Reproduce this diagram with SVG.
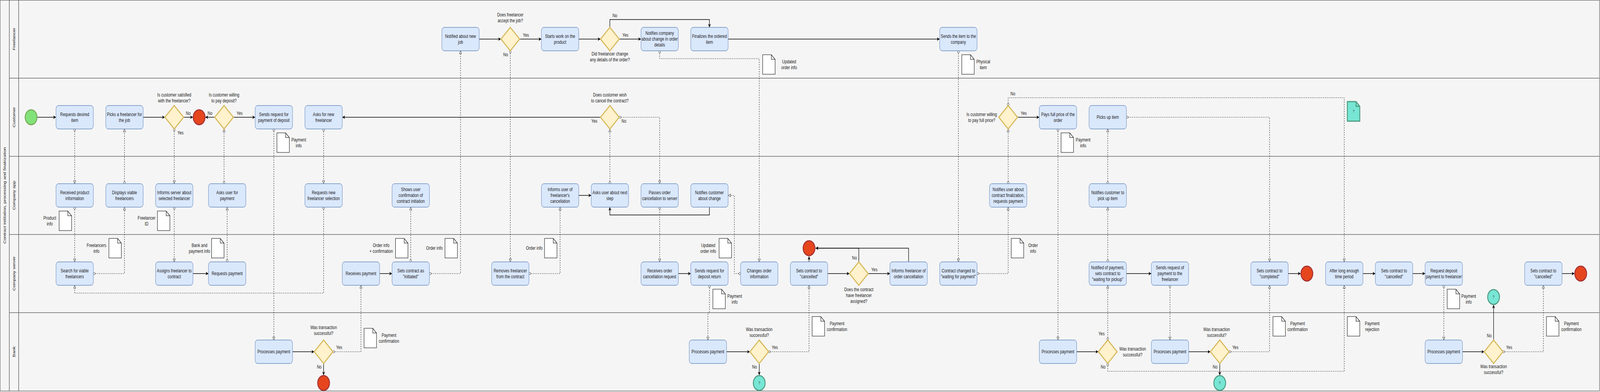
<svg xmlns="http://www.w3.org/2000/svg" width="5142" height="1003" viewBox="0 0 5142 1003" preserveAspectRatio="none">
<style>
svg:root{width:100vw;height:100vh}
text{font-family:"Liberation Sans",Arial,sans-serif;font-size:12px;fill:#1a1a1a;text-anchor:middle}
.task rect{fill:#dae8fc;stroke:#6c8ebf;stroke-width:1.3}
.gw polygon{fill:#fff2cc;stroke:#d6b656;stroke-width:3}
.start circle{fill:#82e27a;stroke:#78ad5c;stroke-width:3}
.end circle{fill:#e6461e;stroke:#a83232;stroke-width:3}
.teal circle,.teal path.b{fill:#78e6d5;stroke:#4f9e82;stroke-width:3}
.teal text{font-size:10px;fill:#444}
.doc path{fill:#fff;stroke:#000;stroke-width:1.2}
.seq{fill:none;stroke:#000;stroke-width:1.5;marker-end:url(#arr)}
.msg{fill:none;stroke:#000;stroke-width:1;stroke-dasharray:3 3;marker-start:url(#mstart);marker-end:url(#mend)}
.lane{stroke:#666;stroke-width:1.5}
.hdr{stroke:#222;stroke-width:1.2}
</style>
<defs>
<marker id="arr" viewBox="0 0 10 10" refX="10" refY="5" markerWidth="9" markerHeight="9" markerUnits="userSpaceOnUse" orient="auto"><path d="M0,0 L10,5 L0,10 L3,5 Z" fill="#000"/></marker>
<marker id="mend" viewBox="0 0 10 10" refX="9.5" refY="5" markerWidth="9" markerHeight="9" markerUnits="userSpaceOnUse" orient="auto"><path d="M1,1.2 L9.5,5 L1,8.8 Z" fill="#fff" stroke="#000" stroke-width="1"/></marker>
<marker id="mstart" viewBox="0 0 10 10" refX="1" refY="5" markerWidth="8" markerHeight="8" markerUnits="userSpaceOnUse" orient="auto"><circle cx="4.5" cy="5" r="3.5" fill="#fff" stroke="#000" stroke-width="1"/></marker>
</defs>

<g id="pool">
<rect x="0.5" y="0.5" width="5140" height="1000" fill="#f5f5f5" stroke="#666" stroke-width="1.5"/>
<line class="hdr" x1="30" y1="0.5" x2="30" y2="1000.5"/>
<line class="hdr" x1="60" y1="0.5" x2="60" y2="1000.5"/>
<line class="lane" x1="30" y1="200" x2="5140" y2="200"/>
<line class="lane" x1="30" y1="400" x2="5140" y2="400"/>
<line class="lane" x1="30" y1="600" x2="5140" y2="600"/>
<line class="lane" x1="30" y1="800" x2="5140" y2="800"/>
<text transform="translate(19,500) rotate(-90)">Contract inititation, processing and finakization</text>
<text transform="translate(49,100) rotate(-90)">Freelancer</text>
<text transform="translate(49,300) rotate(-90)">Customer</text>
<text transform="translate(49,500) rotate(-90)">Company app</text>
<text transform="translate(49,700) rotate(-90)">Company server</text>
<text transform="translate(49,900) rotate(-90)">Bank</text>
</g>

<g id="connectors">
<path class="seq" d="M120,300 H180"/>
<path class="seq" d="M460,300 H530"/>
<path class="seq" d="M590,300 H620"/>
<path class="seq" d="M690,300 H660"/>
<path class="seq" d="M750,300 H820"/>
<path class="seq" d="M1540,100 H1610"/>
<path class="seq" d="M1670,100 H1740"/>
<path class="seq" d="M1860,100 H1930"/>
<path class="seq" d="M1990,100 H2060"/>
<path class="seq" d="M1960,70 V50 H2280 V70"/>
<path class="seq" d="M2340,100 H3020"/>
<path class="seq" d="M1930,300 H1100"/>
<path class="seq" d="M3270,300 H3340"/>
<path class="seq" d="M620,700 H670"/>
<path class="seq" d="M1220,700 H1260"/>
<path class="seq" d="M1860,500 H1900"/>
<path class="seq" d="M2280,530 V550 H1960 V530"/>
<path class="seq" d="M2180,700 H2220"/>
<path class="seq" d="M2660,700 H2730"/>
<path class="seq" d="M2600,670 V656"/>
<path class="seq" d="M2790,700 H2860"/>
<path class="seq" d="M2760,670 V635 H2621"/>
<path class="seq" d="M2920,670 V635 H2621"/>
<path class="seq" d="M3620,700 H3700"/>
<path class="seq" d="M4140,700 H4180"/>
<path class="seq" d="M4380,700 H4420"/>
<path class="seq" d="M4540,700 H4580"/>
<path class="seq" d="M5020,700 H5060"/>
<path class="seq" d="M940,900 H1010"/>
<path class="seq" d="M1040,930 V960"/>
<path class="seq" d="M2335,900 H2410"/>
<path class="seq" d="M2440,930 V960"/>
<path class="seq" d="M3460,900 H3530"/>
<path class="seq" d="M3820,900 H3890"/>
<path class="seq" d="M3920,930 V960"/>
<path class="seq" d="M4700,900 H4770"/>
<path class="seq" d="M4800,870 V780"/>

<path class="msg" d="M240,330 V470"/>
<path class="msg" d="M400,470 V330"/>
<path class="msg" d="M560,330 V470"/>
<path class="msg" d="M720,470 V330"/>
<path class="msg" d="M240,530 V670"/>
<path class="msg" d="M300,700 H400 V530"/>
<path class="msg" d="M560,530 V670"/>
<path class="msg" d="M730,670 V530"/>
<path class="msg" d="M1040,530 V750 H240 V730"/>
<path class="msg" d="M880,330 V870"/>
<path class="msg" d="M1040,330 V470"/>
<path class="msg" d="M1070,900 H1160 V730"/>
<path class="msg" d="M1320,670 V530"/>
<path class="msg" d="M1380,700 H1480 V130"/>
<path class="msg" d="M1640,130 V670"/>
<path class="msg" d="M1700,700 H1800 V530"/>
<path class="msg" d="M1960,470 V330"/>
<path class="msg" d="M1990,300 H2120 V470"/>
<path class="msg" d="M2120,530 V670"/>
<path class="msg" d="M2120,130 V150 H2440 V670"/>
<path class="msg" d="M2380,700 H2360 V500 H2340"/>
<path class="msg" d="M2280,730 V800 H2275 V870"/>
<path class="msg" d="M2470,900 H2600 V730"/>
<path class="msg" d="M3080,130 V670"/>
<path class="msg" d="M3140,700 H3240 V530"/>
<path class="msg" d="M3240,470 V330"/>
<path class="msg" d="M3240,270 V250 H4320 V670"/>
<path class="msg" d="M3400,330 V870"/>
<path class="msg" d="M3560,470 V330"/>
<path class="msg" d="M3560,670 V530"/>
<path class="msg" d="M3560,870 V730"/>
<path class="msg" d="M3560,930 V950 H4320 V730"/>
<path class="msg" d="M3620,300 H4080 V670"/>
<path class="msg" d="M3760,730 V870"/>
<path class="msg" d="M3950,900 H4080 V730"/>
<path class="msg" d="M4640,730 V870"/>
<path class="msg" d="M4830,900 H4960 V730"/>

<text x="605" y="294">No</text>
<text x="675" y="294">No</text>
<text x="770" y="294">Yes</text>
<text x="580" y="344">Yes</text>
<text x="1690" y="94">Yes</text>
<text x="1625" y="144">No</text>
<text x="2010" y="94">Yes</text>
<text x="1976" y="44">No</text>
<text x="1910" y="314">Yes</text>
<text x="2005" y="314">No</text>
<text x="1090" y="893">Yes</text>
<text x="1026" y="943">No</text>
<text x="2490" y="893">Yes</text>
<text x="2425" y="943">No</text>
<text x="2810" y="694">Yes</text>
<text x="2746" y="664">No</text>
<text x="3290" y="294">Yes</text>
<text x="3255" y="244">No</text>
<text x="3540" y="858">Yes</text>
<text x="3545" y="943">No</text>
<text x="3970" y="893">Yes</text>
<text x="3905" y="943">No</text>
<text x="4850" y="893">Yes</text>
<text x="4786" y="863">No</text>
</g>

<!-- Freelancer lane -->
<g id="f_notified" class="task"><rect x="1420" y="70" width="120" height="60" rx="8"/><text x="1480" y="97">Notified about new</text><text x="1480" y="112">job</text></g>
<g id="f_accept" class="gw"><polygon points="1640,70 1670,100 1640,130 1610,100"/><text x="1640" y="42">Does freelancer</text><text x="1640" y="57">accept the job?</text></g>
<g id="f_starts" class="task"><rect x="1740" y="70" width="120" height="60" rx="8"/><text x="1800" y="97">Starts work on the</text><text x="1800" y="112">product</text></g>
<g id="f_changed" class="gw"><polygon points="1960,70 1990,100 1960,130 1930,100"/><text x="1960" y="142">Did freelancer change</text><text x="1960" y="157">any details of the order?</text></g>
<g id="f_notifies" class="task"><rect x="2060" y="70" width="120" height="60" rx="8"/><text x="2120" y="89">Notifies company</text><text x="2120" y="104">about change in order</text><text x="2120" y="119">details</text></g>
<g id="f_finalizes" class="task"><rect x="2220" y="70" width="120" height="60" rx="8"/><text x="2280" y="97">Finalizes the ordered</text><text x="2280" y="112">item</text></g>
<g id="f_sends" class="task"><rect x="3020" y="70" width="120" height="60" rx="8"/><text x="3080" y="97">Sends the item to the</text><text x="3080" y="112">company</text></g>
<g id="d_updated1" class="doc"><path d="M2451,140 H2479 L2491,152 V190 H2451 Z M2479,140 V152 H2491"/><text x="2536" y="162">Updated</text><text x="2536" y="177">order info</text></g>
<g id="d_physical" class="doc"><path d="M3091,140 H3119 L3131,152 V190 H3091 Z M3119,140 V152 H3131"/><text x="3160" y="162">Physical</text><text x="3160" y="177">item</text></g>

<!-- Customer lane -->
<g id="c_start" class="start"><circle cx="100" cy="300" r="19"/></g>
<g id="c_requests" class="task"><rect x="180" y="270" width="120" height="60" rx="8"/><text x="240" y="297">Requests desired</text><text x="240" y="312">item</text></g>
<g id="c_picks" class="task"><rect x="340" y="270" width="120" height="60" rx="8"/><text x="400" y="297">Picks a freelancer for</text><text x="400" y="312">the job</text></g>
<g id="c_satisfied" class="gw"><polygon points="560,270 590,300 560,330 530,300"/><text x="560" y="247">Is customer satisfied</text><text x="560" y="262">with the freelancer?</text></g>
<g id="c_end1" class="end"><circle cx="640" cy="300" r="19"/></g>
<g id="c_deposit" class="gw"><polygon points="720,270 750,300 720,330 690,300"/><text x="720" y="247">Is customer willing</text><text x="720" y="262">to pay deposit?</text></g>
<g id="c_sendsreq" class="task"><rect x="820" y="270" width="120" height="60" rx="8"/><text x="880" y="297">Sends request for</text><text x="880" y="312">payment of deposit</text></g>
<g id="c_asksnew" class="task"><rect x="980" y="270" width="120" height="60" rx="8"/><text x="1040" y="297">Asks for new</text><text x="1040" y="312">freelancer</text></g>
<g id="c_cancel" class="gw"><polygon points="1960,270 1990,300 1960,330 1930,300"/><text x="1960" y="247">Does customer wish</text><text x="1960" y="262">to cancel the contract?</text></g>
<g id="c_fullprice" class="gw"><polygon points="3240,270 3270,300 3240,330 3210,300"/><text x="3155" y="297">Is customer willing</text><text x="3155" y="312">to pay full price?</text></g>
<g id="c_pays" class="task"><rect x="3340" y="270" width="120" height="60" rx="8"/><text x="3400" y="297">Pays full price of the</text><text x="3400" y="312">order</text></g>
<g id="c_pickup" class="task"><rect x="3500" y="270" width="120" height="60" rx="8"/><text x="3560" y="304">Picks up item</text></g>
<g id="c_tealdoc" class="teal"><path class="b" d="M4330,260 H4358 L4370,272 V310 H4330 Z"/><path d="M4358,260 V272 H4370" fill="none" stroke="#4f9e82" stroke-width="3"/><text x="4350" y="289">?</text></g>
<g id="d_payinfo1" class="doc"><path d="M890,340 H918 L930,352 V390 H890 Z M918,340 V352 H930"/><text x="960" y="362">Payment</text><text x="960" y="377">info</text></g>
<g id="d_payinfo2" class="doc"><path d="M3410,340 H3438 L3450,352 V390 H3410 Z M3438,340 V352 H3450"/><text x="3481" y="362">Payment</text><text x="3481" y="377">info</text></g>

<!-- Company app lane -->
<g id="a_received" class="task"><rect x="180" y="470" width="120" height="60" rx="8"/><text x="240" y="497">Received product</text><text x="240" y="512">information</text></g>
<g id="a_displays" class="task"><rect x="340" y="470" width="120" height="60" rx="8"/><text x="400" y="497">Displays viable</text><text x="400" y="512">freelancers</text></g>
<g id="a_informs" class="task"><rect x="500" y="470" width="120" height="60" rx="8"/><text x="560" y="497">Informs server about</text><text x="560" y="512">selected freelancer</text></g>
<g id="a_askspay" class="task"><rect x="670" y="470" width="120" height="60" rx="8"/><text x="730" y="497">Asks user for</text><text x="730" y="512">payment</text></g>
<g id="a_reqnew" class="task"><rect x="980" y="470" width="120" height="60" rx="8"/><text x="1040" y="497">Requests new</text><text x="1040" y="512">freelancer selection</text></g>
<g id="a_shows" class="task"><rect x="1260" y="470" width="120" height="60" rx="8"/><text x="1320" y="489">Shows user</text><text x="1320" y="504">confirmation of</text><text x="1320" y="519">contract initiation</text></g>
<g id="a_informscancel" class="task"><rect x="1740" y="470" width="120" height="60" rx="8"/><text x="1800" y="489">Informs user of</text><text x="1800" y="504">freelancer's</text><text x="1800" y="519">cancellation</text></g>
<g id="a_asksnext" class="task"><rect x="1900" y="470" width="120" height="60" rx="8"/><text x="1960" y="497">Asks user about next</text><text x="1960" y="512">step</text></g>
<g id="a_passes" class="task"><rect x="2060" y="470" width="120" height="60" rx="8"/><text x="2120" y="497">Passes order</text><text x="2120" y="512">cancellation to server</text></g>
<g id="a_notifieschange" class="task"><rect x="2220" y="470" width="120" height="60" rx="8"/><text x="2280" y="497">Notifies customer</text><text x="2280" y="512">about change</text></g>
<g id="a_notifiesfinal" class="task"><rect x="3180" y="470" width="120" height="60" rx="8"/><text x="3240" y="489">Notifies user about</text><text x="3240" y="504">contract finalization,</text><text x="3240" y="519">requests payment</text></g>
<g id="a_notifiespick" class="task"><rect x="3500" y="470" width="120" height="60" rx="8"/><text x="3560" y="497">Notifies customer to</text><text x="3560" y="512">pick up item</text></g>
<g id="d_product" class="doc"><path d="M190,540 H218 L230,552 V590 H190 Z M218,540 V552 H230"/><text x="160" y="562">Product</text><text x="160" y="577">info</text></g>
<g id="d_freelancerid" class="doc"><path d="M506,540 H534 L546,552 V590 H506 Z M534,540 V552 H546"/><text x="471" y="562">Freelancer</text><text x="471" y="577">ID</text></g>

<!-- Company server lane -->
<g id="s_search" class="task"><rect x="180" y="670" width="120" height="60" rx="8"/><text x="240" y="697">Search for viable</text><text x="240" y="712">freelancers</text></g>
<g id="s_assigns" class="task"><rect x="500" y="670" width="120" height="60" rx="8"/><text x="560" y="697">Assigns freelancer to</text><text x="560" y="712">contract</text></g>
<g id="s_reqpay" class="task"><rect x="670" y="670" width="120" height="60" rx="8"/><text x="730" y="704">Requests payment</text></g>
<g id="s_receives" class="task"><rect x="1100" y="670" width="120" height="60" rx="8"/><text x="1160" y="704">Receives payment</text></g>
<g id="s_initiated" class="task"><rect x="1260" y="670" width="120" height="60" rx="8"/><text x="1320" y="697">Sets contract as</text><text x="1320" y="712">"initiated"</text></g>
<g id="s_removes" class="task"><rect x="1580" y="670" width="120" height="60" rx="8"/><text x="1640" y="697">Removes freelancer</text><text x="1640" y="712">from the contract</text></g>
<g id="s_recvcancel" class="task"><rect x="2060" y="670" width="120" height="60" rx="8"/><text x="2120" y="697">Receives order</text><text x="2120" y="712">cancellation request</text></g>
<g id="s_depositreturn" class="task"><rect x="2220" y="670" width="120" height="60" rx="8"/><text x="2280" y="697">Sends request for</text><text x="2280" y="712">deposit return</text></g>
<g id="s_changes" class="task"><rect x="2380" y="670" width="120" height="60" rx="8"/><text x="2440" y="697">Changes order</text><text x="2440" y="712">information</text></g>
<g id="s_cancelled1" class="task"><rect x="2540" y="670" width="120" height="60" rx="8"/><text x="2600" y="697">Sets contract to</text><text x="2600" y="712">"cancelled"</text></g>
<g id="s_end1" class="end"><circle cx="2600" cy="635" r="19"/></g>
<g id="s_hasfreelancer" class="gw"><polygon points="2760,670 2790,700 2760,730 2730,700"/><text x="2760" y="745">Does the contract</text><text x="2760" y="760">have freelancer</text><text x="2760" y="775">assigned?</text></g>
<g id="s_informsfl" class="task"><rect x="2860" y="670" width="120" height="60" rx="8"/><text x="2920" y="697">Informs freelancer of</text><text x="2920" y="712">order cancellation</text></g>
<g id="s_waitpay" class="task"><rect x="3020" y="670" width="120" height="60" rx="8"/><text x="3080" y="697">Contract changed to</text><text x="3080" y="712">"waiting for payment"</text></g>
<g id="s_notifiedpay" class="task"><rect x="3500" y="670" width="120" height="60" rx="8"/><text x="3560" y="689">Notified of payment,</text><text x="3560" y="704">sets contract to</text><text x="3560" y="719">"waiting for pickup"</text></g>
<g id="s_sendsreqpay" class="task"><rect x="3700" y="670" width="120" height="60" rx="8"/><text x="3760" y="689">Sends request of</text><text x="3760" y="704">payment to the</text><text x="3760" y="719">freelancer</text></g>
<g id="s_completed" class="task"><rect x="4020" y="670" width="120" height="60" rx="8"/><text x="4080" y="697">Sets contract to</text><text x="4080" y="712">"completed"</text></g>
<g id="s_end2" class="end"><circle cx="4200" cy="700" r="19"/></g>
<g id="s_after" class="task"><rect x="4260" y="670" width="120" height="60" rx="8"/><text x="4320" y="697">After long enough</text><text x="4320" y="712">time period</text></g>
<g id="s_cancelled2" class="task"><rect x="4420" y="670" width="120" height="60" rx="8"/><text x="4480" y="697">Sets contract to</text><text x="4480" y="712">"cancelled"</text></g>
<g id="s_reqdeposit" class="task"><rect x="4580" y="670" width="120" height="60" rx="8"/><text x="4640" y="697">Request deposit</text><text x="4640" y="712">payment to freelancer</text></g>
<g id="s_teal" class="teal"><circle cx="4800" cy="760" r="19"/><text x="4800" y="764">?</text></g>
<g id="s_cancelled3" class="task"><rect x="4900" y="670" width="120" height="60" rx="8"/><text x="4960" y="697">Sets contract to</text><text x="4960" y="712">"cancelled"</text></g>
<g id="s_end3" class="end"><circle cx="5080" cy="700" r="19"/></g>
<g id="d_freelancersinfo" class="doc"><path d="M350,610 H378 L390,622 V660 H350 Z M378,610 V622 H390"/><text x="310" y="632">Freelancers</text><text x="310" y="647">info</text></g>
<g id="d_bankinfo" class="doc"><path d="M680,610 H708 L720,622 V660 H680 Z M708,610 V622 H720"/><text x="641" y="632">Bank and</text><text x="641" y="647">payment info</text></g>
<g id="d_orderconf" class="doc"><path d="M1271,610 H1299 L1311,622 V660 H1271 Z M1299,610 V622 H1311"/><text x="1225" y="632">Order info</text><text x="1225" y="647">+ confirmation</text></g>
<g id="d_orderinfo1" class="doc"><path d="M1430,610 H1458 L1470,622 V660 H1430 Z M1458,610 V622 H1470"/><text x="1396" y="639">Order info</text></g>
<g id="d_orderinfo2" class="doc"><path d="M1750,610 H1778 L1790,622 V660 H1750 Z M1778,610 V622 H1790"/><text x="1717" y="639">Order info</text></g>
<g id="d_updated2" class="doc"><path d="M2311,610 H2339 L2351,622 V660 H2311 Z M2339,610 V622 H2351"/><text x="2276" y="632">Updated</text><text x="2276" y="647">order info</text></g>
<g id="d_payinfo3" class="doc"><path d="M2291,740 H2319 L2331,752 V790 H2291 Z M2319,740 V752 H2331"/><text x="2361" y="762">Payment</text><text x="2361" y="777">info</text></g>
<g id="d_orderinfo3" class="doc"><path d="M3250,610 H3278 L3290,622 V660 H3250 Z M3278,610 V622 H3290"/><text x="3320" y="632">Order</text><text x="3320" y="647">info</text></g>
<g id="d_payinfo4" class="doc"><path d="M4651,740 H4679 L4691,752 V790 H4651 Z M4679,740 V752 H4691"/><text x="4720" y="762">Payment</text><text x="4720" y="777">info</text></g>

<!-- Bank lane -->
<g id="b_proc1" class="task"><rect x="820" y="870" width="120" height="60" rx="8"/><text x="880" y="904">Processes payment</text></g>
<g id="b_ok1" class="gw"><polygon points="1040,870 1070,900 1040,930 1010,900"/><text x="1040" y="842">Was transaction</text><text x="1040" y="857">successful?</text></g>
<g id="b_end1" class="end"><circle cx="1040" cy="980" r="19"/></g>
<g id="b_proc2" class="task"><rect x="2215" y="870" width="120" height="60" rx="8"/><text x="2275" y="904">Processes payment</text></g>
<g id="b_ok2" class="gw"><polygon points="2440,870 2470,900 2440,930 2410,900"/><text x="2440" y="847">Was transaction</text><text x="2440" y="862">successful?</text></g>
<g id="b_teal1" class="teal"><circle cx="2440" cy="980" r="19"/><text x="2440" y="984">?</text></g>
<g id="b_proc3" class="task"><rect x="3340" y="870" width="120" height="60" rx="8"/><text x="3400" y="904">Processes payment</text></g>
<g id="b_ok3" class="gw"><polygon points="3560,870 3590,900 3560,930 3530,900"/><text x="3640" y="897">Was transaction</text><text x="3640" y="912">successful?</text></g>
<g id="b_proc4" class="task"><rect x="3700" y="870" width="120" height="60" rx="8"/><text x="3760" y="904">Processes payment</text></g>
<g id="b_ok4" class="gw"><polygon points="3920,870 3950,900 3920,930 3890,900"/><text x="3910" y="847">Was transaction</text><text x="3910" y="862">successful?</text></g>
<g id="b_teal2" class="teal"><circle cx="3920" cy="980" r="19"/><text x="3920" y="984">?</text></g>
<g id="b_proc5" class="task"><rect x="4580" y="870" width="120" height="60" rx="8"/><text x="4640" y="904">Processes payment</text></g>
<g id="b_ok5" class="gw"><polygon points="4800,870 4830,900 4800,930 4770,900"/><text x="4800" y="942">Was transaction</text><text x="4800" y="957">successful?</text></g>
<g id="d_payconf1" class="doc"><path d="M1170,840 H1198 L1210,852 V890 H1170 Z M1198,840 V852 H1210"/><text x="1250" y="862">Payment</text><text x="1250" y="877">confirmation</text></g>
<g id="d_payconf2" class="doc"><path d="M2610,810 H2638 L2650,822 V860 H2610 Z M2638,810 V822 H2650"/><text x="2690" y="832">Payment</text><text x="2690" y="847">confirmation</text></g>
<g id="d_payconf3" class="doc"><path d="M4091,810 H4119 L4131,822 V860 H4091 Z M4119,810 V822 H4131"/><text x="4170" y="832">Payment</text><text x="4170" y="847">confirmation</text></g>
<g id="d_payreject" class="doc"><path d="M4330,810 H4358 L4370,822 V860 H4330 Z M4358,810 V822 H4370"/><text x="4410" y="832">Payment</text><text x="4410" y="847">rejection</text></g>
<g id="d_payconf4" class="doc"><path d="M4970,810 H4998 L5010,822 V860 H4970 Z M4998,810 V822 H5010"/><text x="5050" y="832">Payment</text><text x="5050" y="847">confirmation</text></g>
</svg>
